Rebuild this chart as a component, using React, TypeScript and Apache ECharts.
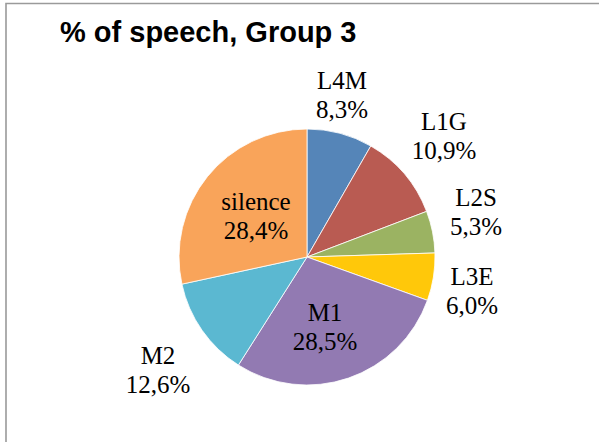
import React, { useEffect, useRef } from "react";
import * as echarts from "echarts";

const categories = ["L4M", "L1G", "L2S", "L3E", "M1", "M2", "silence"];
const shares = [8.3, 10.9, 5.3, 6.0, 28.5, 12.6, 28.4];
const colors = ["#5585B8", "#B95B52", "#9BB362", "#FFC80A", "#927AB2", "#5BB8D1", "#F9A45A"];
const titleText = "% of speech, Group 3";

// label anchor positions (centre of the two-line label block), in px
const labelPos: [number, number][] = [
  [342, 95],
  [444, 136],
  [476, 212],
  [472, 291],
  [325, 327],
  [158, 370],
  [256, 216],
];

const fmt = (v: number) => `${v.toFixed(1).replace(".", ",")}%`;

export default function App() {
  const ref = useRef<HTMLDivElement>(null);
  useEffect(() => {
    if (!ref.current) return;
    const chart = echarts.init(ref.current, undefined, { renderer: "svg" });
    const labelTexts: any[] = [];
    categories.forEach((c, i) => {
      [c, fmt(shares[i])].forEach((line, k) => {
        labelTexts.push({
          type: "text",
          x: labelPos[i][0],
          y: labelPos[i][1] + (k === 0 ? -14.5 : 14.5),
          z: 100,
          silent: true,
          style: {
            text: line,
            fill: "#000",
            fontFamily: "serif",
            fontSize: 25,
            align: "center",
            verticalAlign: "middle",
          },
        });
      });
    });
    chart.setOption({
      animation: false,
      backgroundColor: "#ffffff",
      graphic: [
        {
          type: "rect",
          shape: { x: 6, y: 3.5, width: 800, height: 800 },
          style: { fill: "none", stroke: "#9a9a9a", lineWidth: 1.6 },
          silent: true,
        },
        {
          type: "text",
          x: 60,
          y: 32,
          style: {
            text: titleText,
            fill: "#000",
            fontFamily: "Liberation Sans",
            fontWeight: "bold",
            fontSize: 29,
            align: "left",
            verticalAlign: "middle",
          },
        },
        ...labelTexts,
      ],
      series: [
        {
          type: "pie",
          center: [307, 257],
          radius: 128,
          startAngle: 90,
          clockwise: true,
          itemStyle: { borderColor: "#ffffff", borderWidth: 0.8 },
          label: { show: false },
          labelLine: { show: false },
          data: categories.map((c, i) => ({
            name: c,
            value: shares[i],
            itemStyle: { color: colors[i] },
          })),
        },
      ],
    });
    return () => chart.dispose();
  }, []);
  return (
    <div
      ref={ref}
      style={{ position: "fixed", left: 0, top: 0, width: 599, height: 442 }}
    />
  );
}
